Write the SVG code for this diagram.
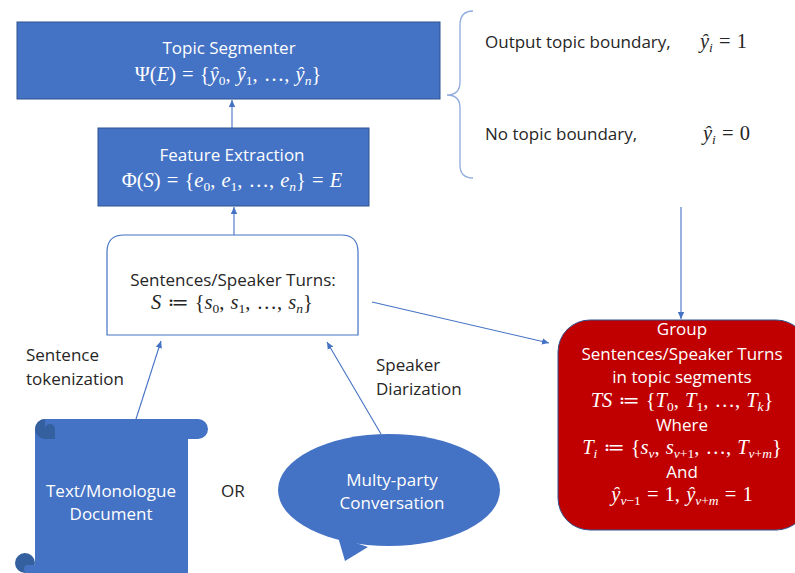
<svg xmlns="http://www.w3.org/2000/svg" width="795" height="573" viewBox="0 0 795 573">
<defs>
<style>
.t{font-family:"Open Sans","Noto Sans",sans-serif;font-size:17px}
.m{font-family:"Liberation Serif","DejaVu Serif",serif;font-size:20.5px;word-spacing:1px}
.i{font-style:italic}
.s{font-size:13.5px}
.w{fill:#fff}
.k{fill:#262626}
.c{text-anchor:middle}
.blue{fill:#4472C4;stroke:#2F528F;stroke-width:1}
.dark{fill:#35609F}
.edge{stroke:#4472C4;stroke-width:1.1;fill:none;marker-end:url(#ah)}
</style>
<marker id="ah" markerUnits="userSpaceOnUse" markerWidth="8" markerHeight="8" refX="7" refY="4" orient="auto">
<path d="M0,0.8 L7,4 L0,7.2 Z" fill="#4472C4"/>
</marker>
</defs>
<rect width="795" height="573" fill="#fff"/>

<g id="connectors">
<line class="edge" x1="232" y1="128" x2="232" y2="100"/>
<line class="edge" x1="234" y1="235" x2="234" y2="207"/>
<line class="edge" x1="136" y1="419" x2="161" y2="341"/>
<line class="edge" x1="381" y1="434" x2="327" y2="342"/>
<line class="edge" x1="372" y1="302" x2="549" y2="343"/>
<line class="edge" x1="681" y1="207" x2="681" y2="319"/>
</g>

<g id="topic-segmenter">
<rect class="blue" x="17" y="22" width="423" height="77"/>
<text class="t w c" x="229" y="54">Topic Segmenter</text>
<text class="m w c" x="228" y="81">Ψ(<tspan class="i">E</tspan>) = {<tspan class="i">ŷ</tspan><tspan class="s" dy="4">0</tspan><tspan dy="-4">, </tspan><tspan class="i">ŷ</tspan><tspan class="s" dy="4">1</tspan><tspan dy="-4">, …, </tspan><tspan class="i">ŷ</tspan><tspan class="s i" dy="4">n</tspan><tspan dy="-4">}</tspan></text>
</g>

<g id="feature-extraction">
<rect class="blue" x="98" y="128" width="271" height="78"/>
<text class="t w c" x="232" y="161">Feature Extraction</text>
<text class="m w c" x="232" y="187">Φ(<tspan class="i">S</tspan>) = {<tspan class="i">e</tspan><tspan class="s" dy="4">0</tspan><tspan dy="-4">, </tspan><tspan class="i">e</tspan><tspan class="s" dy="4">1</tspan><tspan dy="-4">, …, </tspan><tspan class="i">e</tspan><tspan class="s i" dy="4">n</tspan><tspan dy="-4">} = </tspan><tspan class="i">E</tspan></text>
</g>

<g id="sentences">
<path d="M107,335 V252 Q107,235 124,235 H341 Q358,235 358,252 V335 Z" fill="#fff" stroke="#4472C4" stroke-width="1.2"/>
<text class="t k c" x="233" y="286">Sentences/Speaker Turns:</text>
<text class="m k c" x="232" y="309"><tspan class="i">S</tspan> ≔ {<tspan class="i">s</tspan><tspan class="s" dy="4">0</tspan><tspan dy="-4">, </tspan><tspan class="i">s</tspan><tspan class="s" dy="4">1</tspan><tspan dy="-4">, …, </tspan><tspan class="i">s</tspan><tspan class="s i" dy="4">n</tspan><tspan dy="-4">}</tspan></text>
</g>

<g id="brace-labels">
<path d="M473,11 Q460,11 460,25 V82 Q460,95 447,95 Q460,95 460,108 V165 Q460,178 473,178" fill="none" stroke="#8FAADC" stroke-width="1.3"/>
<text class="t k" x="485" y="48">Output topic boundary,</text>
<text class="m k" x="700" y="48"><tspan class="i">ŷ</tspan><tspan class="s i" dy="4">i</tspan><tspan dy="-4"> = 1</tspan></text>
<text class="t k" x="485" y="140">No topic boundary,</text>
<text class="m k" x="703" y="140"><tspan class="i">ŷ</tspan><tspan class="s i" dy="4">i</tspan><tspan dy="-4"> = 0</tspan></text>
</g>

<g id="group-segments">
<rect x="558" y="320" width="250" height="210" rx="32" fill="#C00000" stroke="#2F528F" stroke-width="1"/>
<text class="t w c" x="682" y="335">Group</text>
<text class="t w c" x="682" y="360">Sentences/Speaker Turns</text>
<text class="t w c" x="682" y="383">in topic segments</text>
<text class="m w c" x="682" y="407"><tspan class="i">TS</tspan> ≔ {<tspan class="i">T</tspan><tspan class="s" dy="4">0</tspan><tspan dy="-4">, </tspan><tspan class="i">T</tspan><tspan class="s" dy="4">1</tspan><tspan dy="-4">, …, </tspan><tspan class="i">T</tspan><tspan class="s i" dy="4">k</tspan><tspan dy="-4">}</tspan></text>
<text class="t w c" x="682" y="431">Where</text>
<text class="m w c" x="682" y="454"><tspan class="i">T</tspan><tspan class="s i" dy="4">i</tspan><tspan dy="-4"> ≔ {</tspan><tspan class="i">s</tspan><tspan class="s i" dy="4">v</tspan><tspan dy="-4">, </tspan><tspan class="i">s</tspan><tspan class="s" dy="4"><tspan class="i">v</tspan>+1</tspan><tspan dy="-4">, …, </tspan><tspan class="i">T</tspan><tspan class="s" dy="4"><tspan class="i">v</tspan>+<tspan class="i">m</tspan></tspan><tspan dy="-4">}</tspan></text>
<text class="t w c" x="682" y="478">And</text>
<text class="m w c" x="682" y="501"><tspan class="i">ŷ</tspan><tspan class="s" dy="4"><tspan class="i">v</tspan>−1</tspan><tspan dy="-4"> = 1, </tspan><tspan class="i">ŷ</tspan><tspan class="s" dy="4"><tspan class="i">v</tspan>+<tspan class="i">m</tspan></tspan><tspan dy="-4"> = 1</tspan></text>
</g>

<g id="text-document">
<rect x="35" y="429" width="153" height="150" fill="#4472C4"/>
<rect x="35" y="419" width="173" height="20" rx="10" fill="#4472C4"/>
<path class="dark" d="M45,419 A10,10 0 0 0 45,439 H55 V429 A5,5 0 0 0 45,429 Z"/>
<circle class="dark" cx="25" cy="563" r="10"/>
<path d="M35,553 V573 H28 A4,4 0 0 1 28,565 H35 Z" fill="#4472C4"/>
<text class="t w c" x="111" y="497">Text/Monologue</text>
<text class="t w c" x="111" y="520">Document</text>
</g>

<g id="or-label">
<text class="t k" x="221" y="497">OR</text>
</g>

<g id="conversation">
<path d="M338,537 L345,561 L368,547 Z" fill="#4472C4"/>
<ellipse cx="389" cy="490" rx="111" ry="56" fill="#4472C4"/>
<text class="t w c" x="392" y="486">Multy-party</text>
<text class="t w c" x="392" y="509">Conversation</text>
</g>

<g id="edge-labels">
<text class="t k" x="26" y="361">Sentence</text>
<text class="t k" x="26" y="385">tokenization</text>
<text class="t k" x="376" y="371">Speaker</text>
<text class="t k" x="376" y="395">Diarization</text>
</g>
</svg>
